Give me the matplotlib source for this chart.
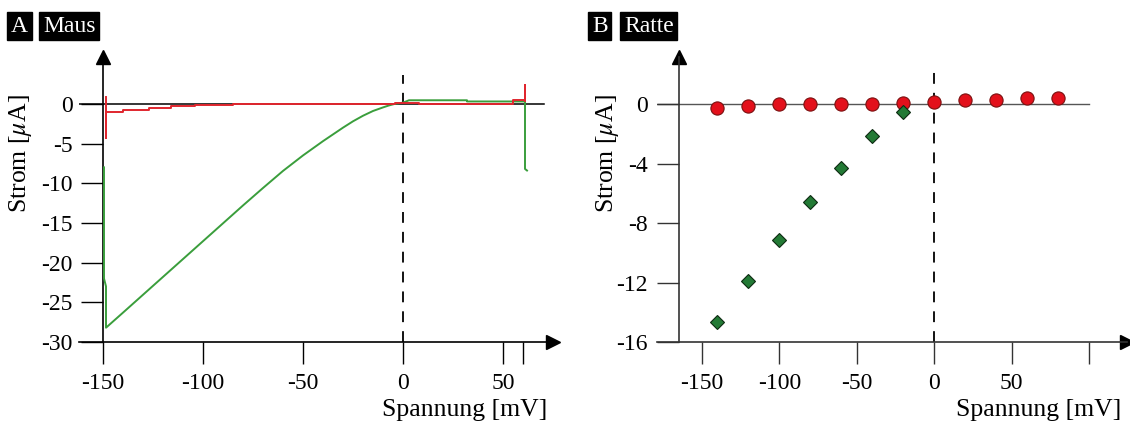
import matplotlib
matplotlib.use("Agg")
import matplotlib.pyplot as plt
import numpy as np

# ---------------- data ----------------
# Panel A (Maus): ramp current traces
mouse_green_v = [-149.5, -149.5, -148.5, -148.5, -140, -130, -120, -110, -100, -90, -80, -70,
                 -60, -50, -40, -30, -25, -20, -15, -10, -7, -4, 0, 3, 32, 32, 61, 61, 62]
mouse_green_i = [-8.0, -22.0, -23.0, -28.2, -26.3, -24.05, -21.8, -19.55, -17.3, -15.05, -12.8,
                 -10.6, -8.45, -6.5, -4.7, -3.0, -2.2, -1.5, -0.9, -0.45, -0.2, 0.0, 0.15, 0.45,
                 0.45, 0.3, 0.3, -8.2, -8.4]
mouse_red_v = [-148.4, -148.4, -148.4, -140, -140, -127, -127, -116, -116, -104, -104, -85, -85,
               -4, -4, 8, 8, 55, 55, 61, 61, 61]
mouse_red_i = [0.8, -4.3, -1.0, -1.0, -0.8, -0.8, -0.5, -0.5, -0.25, -0.25, -0.1, -0.1, 0.02,
               0.02, 0.12, 0.12, 0.02, 0.02, 0.45, 0.45, 2.4, 0.3]

# Panel B (Ratte): steady-state currents
rat_v_red = [-140, -120, -100, -80, -60, -40, -20, 0, 20, 40, 60, 80]
rat_i_red = [-0.27, -0.13, 0.0, 0.0, 0.0, 0.03, 0.1, 0.15, 0.25, 0.3, 0.38, 0.4]
rat_err_red = [0, 0, 0, 0, 0, 0, 0.05, 0.08, 0.15, 0.12, 0.18, 0.18]
rat_v_green = [-140, -120, -100, -80, -60, -40, -20]
rat_i_green = [-14.67, -11.88, -9.17, -6.6, -4.28, -2.15, -0.56]

a_xticks = [-150, -100, -50, 0, 50, 60]
a_xticklabels = ["-150", "-100", "-50", "0", "50", ""]
a_yticks = [0, -5, -10, -15, -20, -25, -30]
b_xticks = [-150, -100, -50, 0, 50, 100]
b_xticklabels = ["-150", "-100", "-50", "0", "50", ""]
b_yticks = [0, -4, -8, -12, -16]

# ---------------- style ----------------
plt.rcParams["font.family"] = ["Liberation Serif", "DejaVu Serif"]
plt.rcParams["mathtext.fontset"] = "stix"

W, H = 1130, 428
fig = plt.figure(figsize=(W / 100, H / 100), dpi=100)

def px_axes(left, right, top, bottom):
    return fig.add_axes([left / W, 1 - bottom / H, (right - left) / W, (bottom - top) / H])

GREEN = "#3a9e3c"
RED = "#e0262e"

def style_axes(ax, ycol, ylabel_x):
    for s in ("top", "right"):
        ax.spines[s].set_visible(False)
    ax.tick_params(direction="out", length=16, width=1.0, labelsize=17, pad=6, colors=ycol,
                   labelcolor="black")
    ax.set_xlabel("Spannung [mV]", fontsize=18.5, ha="right")
    ax.xaxis.set_label_coords(0.987, -0.20)
    ax.set_ylabel("Strom [$\\mu$A]", fontsize=18.5)
    ax.yaxis.set_label_coords(ylabel_x, 0.66)
    ax.patch.set_visible(False)

# ---------------- Panel A ----------------
axA = px_axes(79, 553, 57, 342)
axA.set_xlim(-162, 75)
axA.set_ylim(-30, 5.9)
axA.spines["left"].set_position(("data", -150))
axA.spines["left"].set_linewidth(1.2)
axA.spines["bottom"].set_linewidth(1.2)
axA.set_xticks(a_xticks)
axA.set_xticklabels(a_xticklabels)
axA.set_yticks(a_yticks)
axA.set_yticklabels([f"{t}" for t in a_yticks])
style_axes(axA, "black", -0.094)
axA.axhline(0, xmin=0, xmax=(70.5 + 162) / 237, color="black", lw=1.1, zorder=1)
axA.plot([0, 0], [-30, 3.6], color="black", lw=1.3, linestyle=(0, (6, 5)), zorder=1)
axA.plot(mouse_green_v, mouse_green_i, color=GREEN, lw=1.4, zorder=3)
axA.plot(mouse_red_v, mouse_red_i, color=RED, lw=1.4, zorder=4)
axA.plot(1, 0, marker=">", color="black", markersize=10, transform=axA.transAxes, clip_on=False)
axA.plot(-150, 1, marker="^", color="black", markersize=10,
         transform=axA.get_xaxis_transform(), clip_on=False)

# ---------------- Panel B ----------------
axB = px_axes(657, 1127, 57, 342)
axB.set_xlim(-179, 124.5)
axB.set_ylim(-16, 3.16)
axB.spines["left"].set_position(("data", -165))
for s in ("left", "bottom"):
    axB.spines[s].set_linewidth(1.2)
    axB.spines[s].set_color("#333333")
axB.set_xticks(b_xticks)
axB.set_xticklabels(b_xticklabels)
axB.set_yticks(b_yticks)
axB.set_yticklabels([f"{t}" for t in b_yticks])
style_axes(axB, "#333333", -0.076)
axB.axhline(0, xmin=0, xmax=(100 + 179) / 303.5, color="#555555", lw=1.0, zorder=1)
axB.plot([0, 0], [-16, 2.15], color="black", lw=1.3, linestyle=(0, (6, 5)), zorder=1)
axB.errorbar(rat_v_red, rat_i_red, yerr=[np.zeros(len(rat_err_red)), rat_err_red], fmt="none",
             ecolor="#222222", elinewidth=1.5, capsize=0, zorder=3)
axB.plot(rat_v_red, rat_i_red, linestyle="none", marker="o", markersize=9.5,
         markerfacecolor="#e3101b", markeredgecolor="#7a1010", markeredgewidth=0.8, zorder=4)
axB.plot(rat_v_green, rat_i_green, linestyle="none", marker="D", markersize=7,
         markerfacecolor="#237a35", markeredgecolor="#0d2a12", markeredgewidth=0.8, zorder=4)
axB.plot(1, 0, marker=">", color="black", markersize=10, transform=axB.transAxes, clip_on=False)
axB.plot(-165, 1, marker="^", color="black", markersize=10,
         transform=axB.get_xaxis_transform(), clip_on=False)

# ---------------- panel titles ----------------
def boxed(xpx, text):
    fig.text(xpx / W, 1 - 26 / H, text, color="white", fontsize=17, ha="left", va="center",
             bbox=dict(facecolor="black", edgecolor="black", boxstyle="square,pad=0.15"))

boxed(11, "A")
boxed(43, "Maus")
boxed(592, "B")
boxed(624, "Ratte")

fig.savefig("out.png", dpi=100)
